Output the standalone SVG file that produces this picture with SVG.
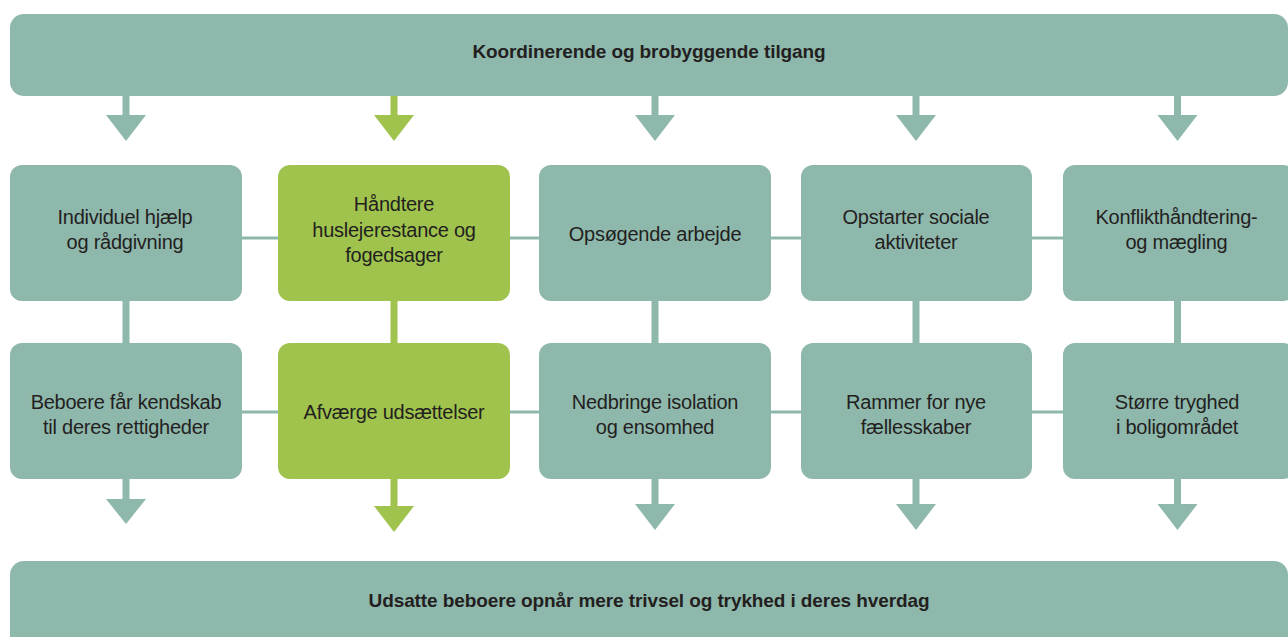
<svg xmlns="http://www.w3.org/2000/svg" width="1288" height="637" viewBox="0 0 1288 637">
<style>
.t{fill:#8FB8AD}
.g{fill:#A0C34E}
.lt{stroke:#8FB8AD;stroke-width:3;fill:none}
.txt{font-family:"Liberation Sans",Arial,sans-serif;font-size:20px;letter-spacing:-0.25px;fill:#231F20;text-anchor:middle}
.bold{font-family:"Liberation Sans",Arial,sans-serif;font-size:19px;font-weight:bold;letter-spacing:-0.1px;fill:#231F20;text-anchor:middle}
</style>
<rect width="1288" height="637" fill="#ffffff"/>
<g id="connectors">
  <line class="lt" x1="242" y1="238" x2="1063" y2="238"/>
  <line class="lt" x1="242" y1="412" x2="1063" y2="412"/>
  <!-- top arrows -->
  <path class="t" d="M122.5 96h7v19h16.5l-20 26-20-26h16.5z"/>
  <path class="g" d="M390.5 96h7v19h16.5l-20 26-20-26h16.5z"/>
  <path class="t" d="M651.5 96h7v19h16.5l-20 26-20-26h16.5z"/>
  <path class="t" d="M912.5 96h7v19h16.5l-20 26-20-26h16.5z"/>
  <path class="t" d="M1174 96h7v19h16.5l-20 26-20-26h16.5z"/>
  <!-- vertical links between rows -->
  <rect class="t" x="122.5" y="299" width="7" height="46"/>
  <rect class="g" x="390.5" y="299" width="7" height="46"/>
  <rect class="t" x="651.5" y="299" width="7" height="46"/>
  <rect class="t" x="912.5" y="299" width="7" height="46"/>
  <rect class="t" x="1174" y="299" width="7" height="46"/>
  <!-- bottom arrows -->
  <path class="t" d="M122.5 477h7v22h16.5l-20 25-20-25h16.5z"/>
  <path class="g" d="M390.5 477h7v29h16.5l-20 26-20-26h16.5z"/>
  <path class="t" d="M651.5 477h7v27h16.5l-20 26-20-26h16.5z"/>
  <path class="t" d="M912.5 477h7v27h16.5l-20 26-20-26h16.5z"/>
  <path class="t" d="M1174 477h7v27h16.5l-20 26-20-26h16.5z"/>
</g>
<g id="top">
  <rect class="t" x="10" y="14" width="1278" height="82" rx="14"/>
  <text class="bold" x="649" y="58">Koordinerende og brobyggende tilgang</text>
</g>
<g id="n1">
  <rect class="t" x="10" y="165" width="232" height="136" rx="12"/>
  <text class="txt" x="125"><tspan x="125" y="224">Individuel hjælp</tspan><tspan x="125" y="249">og rådgivning</tspan></text>
</g>
<g id="n2">
  <rect class="g" x="278" y="165" width="232" height="136" rx="12"/>
  <text class="txt"><tspan x="394" y="211">Håndtere</tspan><tspan x="394" y="236.5">huslejerestance og</tspan><tspan x="394" y="262">fogedsager</tspan></text>
</g>
<g id="n3">
  <rect class="t" x="539" y="165" width="232" height="136" rx="12"/>
  <text class="txt" x="655" y="241">Opsøgende arbejde</text>
</g>
<g id="n4">
  <rect class="t" x="801" y="165" width="231" height="136" rx="12"/>
  <text class="txt"><tspan x="916" y="223.5">Opstarter sociale</tspan><tspan x="916" y="248.5">aktiviteter</tspan></text>
</g>
<g id="n5">
  <rect class="t" x="1063" y="165" width="232" height="136" rx="12"/>
  <text class="txt"><tspan x="1176.5" y="224">Konflikthåndtering-</tspan><tspan x="1176.5" y="249">og mægling</tspan></text>
</g>
<g id="n6">
  <rect class="t" x="10" y="343" width="232" height="136" rx="12"/>
  <text class="txt"><tspan x="126" y="409">Beboere får kendskab</tspan><tspan x="126" y="434">til deres rettigheder</tspan></text>
</g>
<g id="n7">
  <rect class="g" x="278" y="343" width="232" height="136" rx="12"/>
  <text class="txt" x="394" y="419">Afværge udsættelser</text>
</g>
<g id="n8">
  <rect class="t" x="539" y="343" width="232" height="136" rx="12"/>
  <text class="txt"><tspan x="655" y="409">Nedbringe isolation</tspan><tspan x="655" y="434">og ensomhed</tspan></text>
</g>
<g id="n9">
  <rect class="t" x="801" y="343" width="231" height="136" rx="12"/>
  <text class="txt"><tspan x="916" y="409">Rammer for nye</tspan><tspan x="916" y="434">fællesskaber</tspan></text>
</g>
<g id="n10">
  <rect class="t" x="1063" y="343" width="232" height="136" rx="12"/>
  <text class="txt"><tspan x="1177" y="409">Større tryghed</tspan><tspan x="1177" y="434">i boligområdet</tspan></text>
</g>
<g id="bottom">
  <rect class="t" x="10" y="561" width="1278" height="90" rx="14"/>
  <text class="bold" x="649" y="607">Udsatte beboere opnår mere trivsel og trykhed i deres hverdag</text>
</g>
</svg>
